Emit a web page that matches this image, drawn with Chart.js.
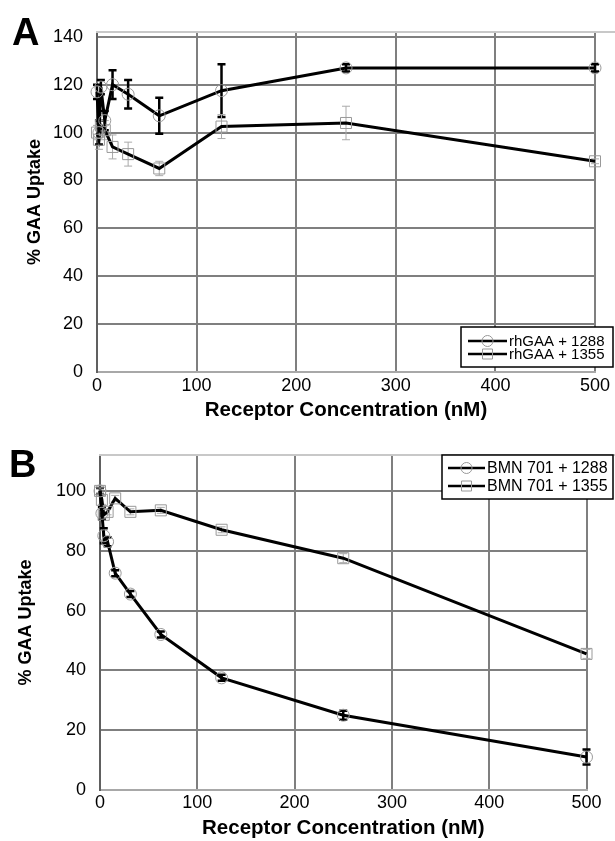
<!DOCTYPE html>
<html><head><meta charset="utf-8">
<script src="https://cdn.jsdelivr.net/npm/chart.js@4"></script>
<style>
html,body{margin:0;padding:0;background:#fff;}
#wrap{position:relative;width:615px;height:841px;overflow:hidden;background:#fff;}
canvas{position:absolute;left:0;}
.lbl{position:absolute;font:bold 38px 'Liberation Sans',Arial,sans-serif;line-height:38px;color:#000;}
</style></head><body>
<div id="wrap">
<canvas id="ca" width="615" height="425" style="top:0;width:615px;height:425px"></canvas>
<canvas id="cb" width="615" height="416" style="top:425px;width:615px;height:416px"></canvas>
<div class="lbl" style="left:12px;top:13px">A</div>
<div class="lbl" style="left:9px;top:445px">B</div>
</div>
<script>
// ---- data ----
const concentrations = [0, 1.95, 3.9, 7.8, 15.6, 31.25, 62.5, 125, 250, 500];
const xTicks = [0, 100, 200, 300, 400, 500];
const yTicksA = [0, 20, 40, 60, 80, 100, 120, 140];
const yTicksB = [0, 20, 40, 60, 80, 100];

const rhGAA1288 = [117, 100, 119, 105, 120, 116, 107, 117.5, 127, 127];
const rhGAA1288Err = [3, 5, 3, 4, 6, 6, 7.5, 11, 1.5, 1.5];
const rhGAA1355 = [100, 97, 103, 101, 94, 91, 85, 102.5, 104, 88];
const rhGAA1355Err = [3, 4, 5, 4, 5, 5, 3, 5, 7, 1];

const bmn1288 = [100, 92.5, 85, 83, 72.5, 65.5, 52, 37.5, 25, 11];
const bmn1288Err = [1, 2, 2.5, 1.5, 1, 1, 1, 1, 1.5, 2.5];
const bmn1355 = [100, 97, 92, 93, 97.5, 93, 93.5, 87, 77.5, 45.5];
const bmn1355Err = [1, 1.5, 1, 1, 1, 1, 1, 1, 1.5, 1.5];

const legendA = ['rhGAA + 1288', 'rhGAA + 1355'];
const legendB = ['BMN 701 + 1288', 'BMN 701 + 1355'];

Chart.defaults.font.family = "'Liberation Sans', Arial, Helvetica, sans-serif";
Chart.defaults.color = '#000';

const pts = (ys) => concentrations.map((c, i) => ({x: c, y: ys[i]}));

const errorBarPlugin = {
  id: 'errbars',
  beforeDatasetsDraw(chart) {
    const ctx = chart.ctx, xs = chart.scales.x, ys = chart.scales.y;
    chart.data.datasets.forEach(ds => {
      if (!ds.errors) return;
      ctx.save();
      ctx.strokeStyle = ds.errColor; ctx.lineWidth = ds.errWidth;
      const cap = ds.errCap;
      ds.data.forEach((p, j) => {
        const e = ds.errors[j]; if (!e) return;
        const px = xs.getPixelForValue(p.x);
        const y1 = ys.getPixelForValue(p.y + e), y2 = ys.getPixelForValue(p.y - e);
        ctx.beginPath();
        ctx.moveTo(px, y1); ctx.lineTo(px, y2);
        ctx.moveTo(px - cap, y1); ctx.lineTo(px + cap, y1);
        ctx.moveTo(px - cap, y2); ctx.lineTo(px + cap, y2);
        ctx.stroke();
      });
      ctx.restore();
    });
  }
};

const frameTopPlugin = {
  id: 'frameTop',
  beforeDatasetsDraw(chart) {
    const ctx = chart.ctx, a = chart.chartArea;
    ctx.save();
    ctx.strokeStyle = '#c8c8c8'; ctx.lineWidth = 2;
    ctx.beginPath(); ctx.moveTo(a.left - 1, a.top); ctx.lineTo(chart.width, a.top); ctx.stroke();
    ctx.restore();
  }
};

const boxLegendPlugin = {
  id: 'boxLegend',
  afterDraw(chart, args, o) {
    const ctx = chart.ctx;
    ctx.save();
    ctx.fillStyle = '#fff';
    ctx.fillRect(o.x1, o.y1, o.x2 - o.x1, o.y2 - o.y1);
    ctx.strokeStyle = '#000'; ctx.lineWidth = 1.5;
    ctx.strokeRect(o.x1, o.y1, o.x2 - o.x1, o.y2 - o.y1);
    chart.data.datasets.forEach((ds, i) => {
      const y = o.rowY[i];
      ctx.strokeStyle = '#000'; ctx.lineWidth = 2.5;
      ctx.beginPath(); ctx.moveTo(o.lineX1, y); ctx.lineTo(o.lineX2, y); ctx.stroke();
      const mx = (o.lineX1 + o.lineX2) / 2;
      ctx.strokeStyle = '#999'; ctx.lineWidth = 1;
      ctx.beginPath();
      if (ds.pointStyle === 'rect') ctx.rect(mx - 5, y - 5, 10, 10);
      else ctx.arc(mx, y, 5.5, 0, Math.PI * 2);
      ctx.stroke();
      ctx.fillStyle = '#000';
      ctx.font = o.fontSize + "px 'Liberation Sans', Arial, sans-serif";
      ctx.textBaseline = 'middle'; ctx.textAlign = 'left';
      ctx.fillText(ds.label, o.textX, y + 0.5);
    });
    ctx.restore();
  }
};

function makeDatasets(labels, s1, e1, s2, e2) {
  const common = {showLine: true, borderColor: '#000', borderWidth: 3, tension: 0,
    pointBorderColor: '#999', pointBackgroundColor: 'rgba(0,0,0,0)', pointBorderWidth: 1, clip: false};
  return [
    Object.assign({}, common, {label: labels[0], data: pts(s1), pointStyle: 'circle', pointRadius: 6,
      errors: e1, errColor: '#000', errWidth: 2.5, errCap: 4}),
    Object.assign({}, common, {label: labels[1], data: pts(s2), pointStyle: 'rect', pointRadius: 7.8,
      errors: e2, errColor: '#aaa', errWidth: 1, errCap: 4})
  ];
}

function makeOptions(cfg) {
  return {
    responsive: false, animation: false, devicePixelRatio: 1,
    layout: {padding: {top: cfg.padTop, right: cfg.padRight, left: 0, bottom: 0}},
    plugins: {legend: {display: false}, tooltip: {enabled: false}, boxLegend: cfg.legend},
    scales: {
      x: {type: 'linear', min: 0, max: 500,
        afterFit: s => { s.height = cfg.xHeight; },
        afterBuildTicks: s => { s.ticks = xTicks.map(v => ({value: v})); },
        ticks: {font: {size: 18}, padding: cfg.xTickPad, maxRotation: 0, includeBounds: false},
        grid: {color: '#7f7f7f', lineWidth: 2, drawTicks: false},
        border: {color: '#a8a8a8', width: 2},
        title: {display: true, text: 'Receptor Concentration (nM)', font: {size: 20.5, weight: 'bold'},
          padding: {top: 0, bottom: cfg.xTitlePad}}
      },
      y: {type: 'linear', min: 0, max: cfg.yMax,
        afterFit: s => { s.width = cfg.yWidth; },
        afterBuildTicks: s => { s.ticks = cfg.yTicks.map(v => ({value: v})); },
        ticks: {font: {size: 18}, padding: 14, includeBounds: false},
        grid: {color: '#7f7f7f', lineWidth: 2, drawTicks: false},
        border: {color: '#606060', width: 2},
        title: {display: true, text: '% GAA Uptake', font: {size: 18, weight: 'bold'},
          padding: {top: cfg.yTitlePad, bottom: 0}}
      }
    }
  };
}

new Chart(document.getElementById('ca'), {
  type: 'scatter',
  data: {datasets: makeDatasets(legendA, rhGAA1288, rhGAA1288Err, rhGAA1355, rhGAA1355Err)},
  options: makeOptions({padTop: 32, padRight: 20, xHeight: 53, xTickPad: 3, xTitlePad: 2,
    yMax: 142, yWidth: 97, yTicks: yTicksA, yTitlePad: 24,
    legend: {x1: 461, y1: 327, x2: 613, y2: 367, rowY: [341, 354], lineX1: 468, lineX2: 507, textX: 509, fontSize: 15}}),
  plugins: [errorBarPlugin, frameTopPlugin, boxLegendPlugin]
});

new Chart(document.getElementById('cb'), {
  type: 'scatter',
  data: {datasets: makeDatasets(legendB, bmn1288, bmn1288Err, bmn1355, bmn1355Err)},
  options: makeOptions({padTop: 30, padRight: 28.5, xHeight: 51, xTickPad: 2, xTitlePad: 0,
    yMax: 112, yWidth: 100, yTicks: yTicksB, yTitlePad: 15,
    legend: {x1: 442, y1: 30, x2: 613, y2: 74, rowY: [43, 61], lineX1: 448, lineX2: 485, textX: 487, fontSize: 16}}),
  plugins: [errorBarPlugin, frameTopPlugin, boxLegendPlugin]
});
</script>
</body></html>
